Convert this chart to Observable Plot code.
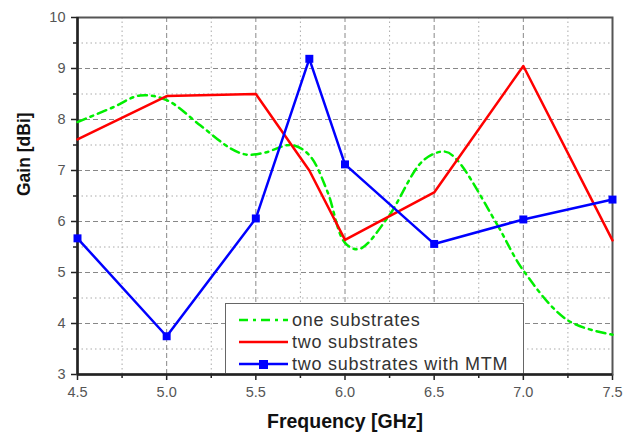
<!DOCTYPE html>
<html>
<head>
<meta charset="utf-8">
<script src="https://cdn.jsdelivr.net/npm/d3@7"></script>
<script src="https://cdn.jsdelivr.net/npm/@observablehq/plot@0.6"></script>
<style>
  html, body { margin: 0; padding: 0; background: #fff; }
  #wrap { position: relative; width: 633px; height: 433px; font-family: "Liberation Sans", Arial, sans-serif; }
  #legend { position: absolute; left: 225px; top: 303px; width: 299px; height: 70px; border: 1.5px solid #666; border-bottom: none; background: #fff; box-sizing: border-box; padding-top: 5px; }
  .row { display: flex; align-items: center; height: 22px; }
  .row svg { margin-left: 13px; margin-right: 4px; }
  .row span { font-size: 18px; color: #333; letter-spacing: 0.75px; }
</style>
</head>
<body>
<div id="wrap"></div>
<script>
// ---- data ----
const freq = [4.5, 5.0, 5.5, 5.8, 6.0, 6.5, 7.0, 7.5];
const twoSubstrates = [7.61, 8.46, 8.50, 7.0, 5.64, 6.57, 9.05, 5.63];
const twoSubstratesMTM = [5.67, 3.75, 6.06, 9.19, 7.12, 5.56, 6.04, 6.43];

const oneFreq = [4.5, 4.7, 4.85, 5.0, 5.19, 5.36, 5.45, 5.55, 5.7, 5.8, 5.9, 6.0, 6.08, 6.24, 6.44, 6.56, 6.63, 6.85, 7.0, 7.25, 7.5];
const oneSubstrates = [7.95, 8.24, 8.47, 8.38, 7.88, 7.43, 7.31, 7.35, 7.5, 7.3, 6.6, 5.58, 5.46, 6.08, 7.2, 7.37, 7.2, 5.96, 5.04, 4.06, 3.78];

const xMajor = [4.5, 5.0, 5.5, 6.0, 6.5, 7.0, 7.5];
const xMinor = [4.75, 5.25, 5.75, 6.25, 6.75, 7.25];
const yMajor = [3, 4, 5, 6, 7, 8, 9, 10];
const yMinor = [3.5, 4.5, 5.5, 6.5, 7.5, 8.5, 9.5];
const xDomain = [4.5, 7.5];
const yDomain = [3, 10];

const seriesNames = ["one substrates", "two substrates", "two substrates with MTM"];
const seriesColors = ["#00ee00", "#ff0000", "#0000ff"];

const one = oneFreq.map((f, i) => ({f, g: oneSubstrates[i]}));
const two = freq.map((f, i) => ({f, g: twoSubstrates[i]}));
const mtm = freq.map((f, i) => ({f, g: twoSubstratesMTM[i]}));

const chart = Plot.plot({
  width: 633,
  height: 433,
  marginLeft: 77,
  marginRight: 21,
  marginTop: 17,
  marginBottom: 59,
  style: {fontFamily: "'Liberation Sans', Arial, sans-serif", background: "#fff"},
  x: {domain: xDomain},
  y: {domain: yDomain},
  marks: [
    Plot.gridX(xMinor, {stroke: "#aaa", strokeOpacity: 1, strokeDasharray: "1.5,3"}),
    Plot.gridY(yMinor, {stroke: "#aaa", strokeOpacity: 1, strokeDasharray: "1.5,3"}),
    Plot.gridX(xMajor, {stroke: "#888", strokeOpacity: 1, strokeDasharray: "5,3"}),
    Plot.gridY(yMajor, {stroke: "#888", strokeOpacity: 1, strokeDasharray: "5,3"}),
    Plot.axisX(xMinor, {tickSize: 4, text: null, label: null, stroke: "#222", strokeWidth: 1.5}),
    Plot.axisY(yMinor, {tickSize: 4, text: null, label: null, stroke: "#222", strokeWidth: 1.5}),
    Plot.axisX(xMajor, {tickSize: 6, tickPadding: 6, tickFormat: d3.format(".1f"), fontSize: 14.5, fill: "#555", stroke: "#222", strokeWidth: 1.5, label: null}),
    Plot.axisY(yMajor, {tickSize: 6, tickPadding: 6, tickFormat: d3.format("d"), fontSize: 14.5, fill: "#555", stroke: "#222", strokeWidth: 1.5, label: null}),
    Plot.frame({stroke: "#555", strokeWidth: 2}),
    Plot.ruleX([xDomain[0]], {stroke: "#222", strokeWidth: 2.5}),
    Plot.ruleY([yDomain[0]], {stroke: "#222", strokeWidth: 2.5}),
    Plot.line(one, {x: "f", y: "g", stroke: seriesColors[0], strokeWidth: 2.5, strokeDasharray: "9,5,3,5", curve: "catmull-rom"}),
    Plot.line(two, {x: "f", y: "g", stroke: seriesColors[1], strokeWidth: 2.5}),
    Plot.line(mtm, {x: "f", y: "g", stroke: seriesColors[2], strokeWidth: 2.5}),
    Plot.dot(mtm, {x: "f", y: "g", symbol: "square", r: 4.5, fill: seriesColors[2], stroke: "none"}),
    Plot.text(["Frequency [GHz]"], {frameAnchor: "bottom", dy: 53, fontSize: 19.5, fontWeight: "bold", fill: "#111"}),
    Plot.text(["Gain [dBi]"], {frameAnchor: "left", dx: -53, rotate: -90, fontSize: 17.5, fontWeight: "bold", fill: "#111"})
  ]
});

const wrap = document.getElementById("wrap");
wrap.appendChild(chart);

// legend overlay
const legend = document.createElement("div");
legend.id = "legend";
seriesNames.forEach((name, i) => {
  const row = document.createElement("div");
  row.className = "row";
  let sw = `<svg width="49" height="10"><line x1="0" x2="49" y1="5" y2="5" stroke="${seriesColors[i]}" stroke-width="2.5"${i === 0 ? ' stroke-dasharray="9,5,3,5"' : ''}/>`;
  if (i === 2) sw += `<rect x="20" y="1" width="9" height="9" fill="${seriesColors[i]}"/>`;
  sw += `</svg>`;
  row.innerHTML = sw + `<span>${name}</span>`;
  legend.appendChild(row);
});
wrap.appendChild(legend);
</script>
</body>
</html>
